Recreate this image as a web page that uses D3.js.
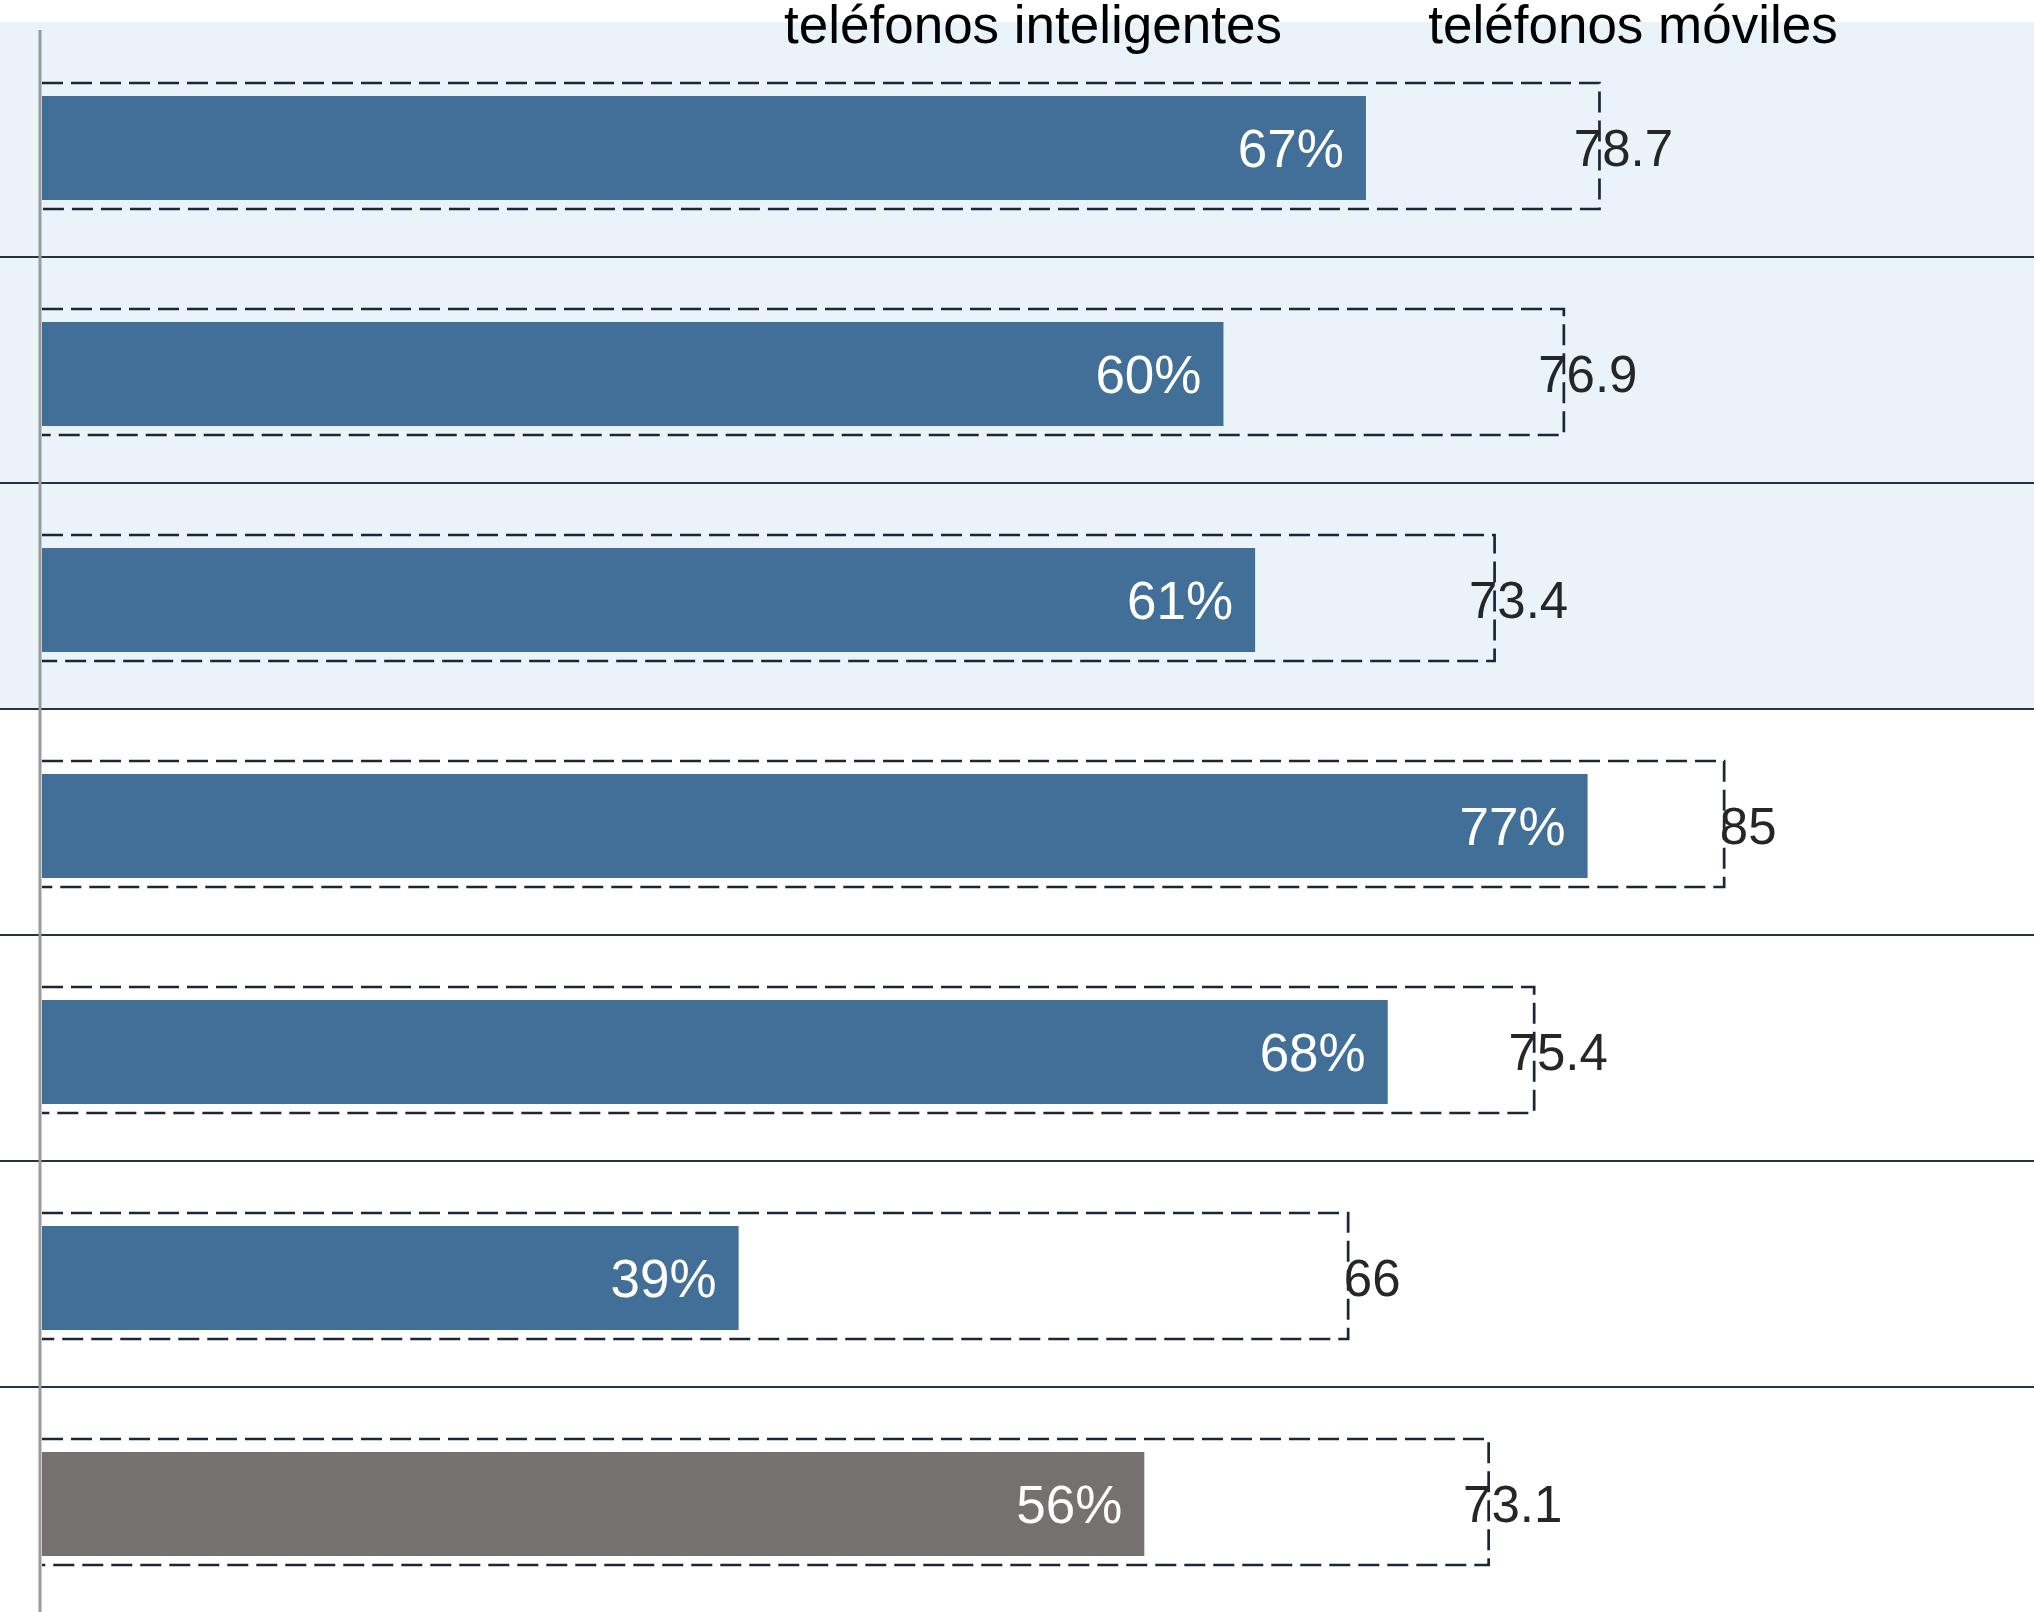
<!DOCTYPE html>
<html>
<head>
<meta charset="utf-8">
<script src="https://cdn.jsdelivr.net/npm/d3@7"></script>
<style>
  html, body { margin: 0; padding: 0; background: #ffffff; overflow: hidden; }
  svg { display: block; font-family: "Liberation Sans", Arial, Helvetica, sans-serif; }
</style>
</head>
<body>
<svg id="chart" width="2034" height="1612"></svg>
<script>
// ---- data ----
const categories = ["fila 1", "fila 2", "fila 3", "fila 4", "fila 5", "fila 6", "fila 7"];
const highlighted = [true, true, true, false, false, false, false];
// smartphone bars (length as drawn) and their printed labels
const smartphoneValues = [66.9, 59.7, 61.3, 78.1, 68.0, 35.2, 55.7];
const smartphoneLabels = ["67%", "60%", "61%", "77%", "68%", "39%", "56%"];
// mobile phones (dashed boxes)
const mobileValues = [78.7, 76.9, 73.4, 85, 75.4, 66, 73.1];
const mobileLabels = ["78.7", "76.9", "73.4", "85", "75.4", "66", "73.1"];
const seriesNames = ["teléfonos inteligentes", "teléfonos móviles"];
const barColors = ["#426f97", "#426f97", "#426f97", "#426f97", "#426f97", "#426f97", "#757170"];

// ---- layout ----
const W = 2034, H = 1612;
const svg = d3.select("#chart");

const x = d3.scaleLinear().domain([0, 100]).range([42, 2021]);
const y = d3.scaleBand().domain(categories).range([35, 1617]).padding(0);
const step = y.step();
const barH = 104;
const center = c => y(c) + step / 2;

// highlighted background band
const hl = categories.filter((c, i) => highlighted[i]);
svg.append("rect")
  .attr("x", 0).attr("width", W)
  .attr("y", y(hl[0]) - 13)
  .attr("height", y(hl[hl.length - 1]) + step - 5 - (y(hl[0]) - 13))
  .attr("fill", "#eaf3f9");

// separators between rows
svg.append("g").selectAll("line")
  .data(categories.slice(1))
  .join("line")
  .attr("x1", 0).attr("x2", W)
  .attr("y1", d => y(d) - 4).attr("y2", d => y(d) - 4)
  .attr("stroke", "#26324a").attr("stroke-width", 2);

// dashed boxes (mobile phones)
svg.append("g").selectAll("path")
  .data(categories)
  .join("path")
  .attr("d", (d, i) => {
    const x0 = x(0), x1 = x(mobileValues[i]);
    const t = center(d) - 65, b = center(d) + 61;
    return `M${x0},${t}H${x1}V${b}H${x0}`;
  })
  .attr("fill", "none")
  .attr("stroke", "#1c2638")
  .attr("stroke-width", 2.7)
  .attr("stroke-dasharray", "21,8");

// smartphone bars
svg.append("g").selectAll("rect")
  .data(categories)
  .join("rect")
  .attr("x", x(0))
  .attr("y", d => center(d) - barH / 2)
  .attr("width", (d, i) => x(smartphoneValues[i]) - x(0))
  .attr("height", barH)
  .attr("fill", (d, i) => barColors[i]);

// smartphone labels
svg.append("g").selectAll("text")
  .data(categories)
  .join("text")
  .attr("x", (d, i) => x(smartphoneValues[i]) - 22)
  .attr("y", d => center(d))
  .attr("dy", "0.36em")
  .attr("text-anchor", "end")
  .attr("font-size", 53)
  .attr("fill", "#ffffff")
  .text((d, i) => smartphoneLabels[i]);

// soft blur filter for mobile labels
const defs = svg.append("defs");
defs.append("filter").attr("id", "soft")
  .append("feGaussianBlur").attr("stdDeviation", 0.7);

// mobile labels
svg.append("g").selectAll("text")
  .data(categories)
  .join("text")
  .attr("x", (d, i) => x(mobileValues[i]) + 24)
  .attr("y", d => center(d))
  .attr("dy", "0.36em")
  .attr("text-anchor", "middle")
  .attr("font-size", 51)
  .attr("fill", "#262626")
  .attr("filter", "url(#soft)")
  .text((d, i) => mobileLabels[i]);

// vertical axis line
svg.append("line")
  .attr("x1", 40).attr("x2", 40)
  .attr("y1", 30).attr("y2", H)
  .attr("stroke", "#9a9a9a").attr("stroke-width", 3);

// series headers
const headerX = [1033, 1633];
svg.append("g").selectAll("text")
  .data(seriesNames)
  .join("text")
  .attr("x", (d, i) => headerX[i])
  .attr("y", 43)
  .attr("text-anchor", "middle")
  .attr("font-size", 53)
  .attr("fill", "#000000")
  .text(d => d);
</script>
</body>
</html>
